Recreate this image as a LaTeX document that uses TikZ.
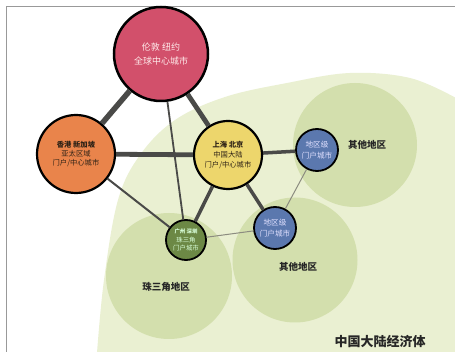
\documentclass[tikz,border=0pt]{standalone}
\usepackage{fontspec}
\setmainfont{Noto Sans CJK SC}
\definecolor{bigreg}{HTML}{EAF0D2}
\definecolor{subreg}{HTML}{D3DFAD}
\definecolor{cred}{HTML}{D2506B}
\definecolor{corange}{HTML}{E9844B}
\definecolor{cyellow}{HTML}{EDD66C}
\definecolor{cblue}{HTML}{5B78AE}
\definecolor{cgreen}{HTML}{6C8845}
\definecolor{linkc}{HTML}{4A4A48}
\definecolor{thinlink}{HTML}{8C8C80}
\definecolor{txtdark}{HTML}{2E2216}
\tikzset{
  city/.style={circle, draw=black, line width=2.2pt, inner sep=0pt, align=center},
  region/.style={circle, fill=subreg, draw=none, inner sep=0pt},
  lbl/.style={font=\bfseries\fontsize{9.5}{11}\selectfont, text=black!85},
  link/.style={draw=linkc, line cap=butt},
}
\begin{document}
\begin{tikzpicture}[x=1pt,y=-1pt]
\useasboundingbox (0,0) rectangle (455,352);
\fill[white] (0,0) rectangle (455,352);
% big economy region
\fill[bigreg] plot[smooth, tension=0.6] coordinates {(97,353) (104,280) (118,200) (140,155) (175,120) (225,97) (287,83) (350,73) (410,78) (456,98)} -- (456,353) -- cycle;
% frame
\draw[gray!80, line width=0.9pt] (455,6) -- (6,6) -- (6,352);
% sub regions
\node[region, minimum size=124pt] (r1) at (355,145) {};
\node[region, minimum size=125pt] (r2) at (295,260) {};
\node[region, minimum size=126pt] (r3) at (169,276) {};
% cities
\node[city, fill=cred, minimum size=94pt, line width=2.5pt, text=white!92!red, font=\fontsize{9}{14}\selectfont] (lon) at (161,54) {伦敦 纽约\\全球中心城市};
\node[city, fill=corange, minimum size=78pt, text=txtdark, font=\fontsize{7.3}{9.2}\selectfont] (hk) at (76,154) {\textbf{香港 新加坡}\\亚太区域\\门户/中心城市};
\node[city, fill=cyellow, minimum size=68pt, text=txtdark, font=\fontsize{7.3}{9.6}\selectfont] (sh) at (228,155) {\textbf{上海 北京}\\中国大陆\\门户/中心城市};
\node[city, fill=cblue, minimum size=42pt, line width=1.8pt, text=white!88!blue, font=\fontsize{7.6}{10.5}\selectfont] (bt) at (317,150) {地区级\\门户城市};
\node[city, fill=cblue, minimum size=42pt, line width=1.8pt, text=white!88!blue, font=\fontsize{7.6}{10.5}\selectfont] (bm) at (275,228) {地区级\\门户城市};
\node[city, fill=cgreen, minimum size=40pt, line width=1.8pt, text=white!85!green, font=\fontsize{6.4}{8.6}\selectfont] (gz) at (186,240) {{\fontsize{5.4}{8}\selectfont\bfseries 广州 深圳}\\珠三角\\门户城市};
% links
\path[link, line width=5.5pt] (lon) -- (hk);
\path[link, line width=4.8pt] (lon) -- (sh);
\path[link, line width=1.8pt] (lon) -- (gz);
\path[link, line width=4.8pt] (hk) -- (sh);
\path[link, line width=2pt] (hk) -- (gz);
\path[link, line width=3.5pt] (sh) -- (gz);
\path[link, line width=3.5pt] (sh) -- (bt);
\path[link, line width=3.5pt] (sh) -- (bm);
\path[draw=thinlink, line width=1pt] (bt) -- (bm);
\path[draw=thinlink, line width=1pt] (gz) -- (bm);
% labels
\node[lbl] (l1) at (367,145) {其他地区};
\node[lbl] (l2) at (298,267) {其他地区};
\node[lbl] (l3) at (166,287) {珠三角地区};
\node[lbl, font=\bfseries\fontsize{13}{15}\selectfont] (l4) at (380,342) {中国大陆经济体};
\end{tikzpicture}
\end{document}
